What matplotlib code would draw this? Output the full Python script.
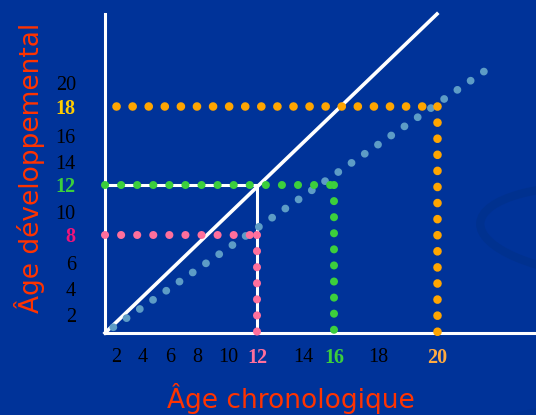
import numpy as np
import matplotlib
matplotlib.use("Agg")
import matplotlib.pyplot as plt
from matplotlib.patches import Ellipse

# tick values on both axes
ages = [2, 4, 6, 8, 10, 12, 14, 16, 18, 20]

# the slide's graduations are not evenly spaced: value -> distance from origin (px)
x_grad_vals = [-100, 0, 2, 4, 6, 8, 10, 12, 14, 16, 18, 20, 24, 100]
x_grad_pos = [-1050, 0, 11, 38, 65, 92, 123, 152, 198, 229, 273, 332, 431, 2312]
y_grad_vals = [-100, 0, 2, 4, 6, 8, 10, 12, 14, 16, 18, 20, 26, 100]
y_grad_pos = [-1250, 0, 18, 44, 70, 98, 121, 148, 171, 197, 227, 250, 319, 1170]

# normal development: developmental age == chronological age
normal_chrono = [0, 20]
normal_dev = [0, 26]
normal_ref = 12

# three children: chronological age vs developmental age
case_chrono = [12, 16, 20]
case_dev = [8, 12, 18]
case_start = [0, 0, 2]
case_colors = ["#ff6f9c", "#3ccf3c", "#ffa500"]

# delayed development trend
delay_chrono = [0, 22.1]
delay_dev = [0, 21.3]

# highlighted tick labels
y_hl = {18: "#ffcc00", 12: "#3ccf3c", 8: "#f0147a"}
x_hl = {12: "#ff6f9c", 16: "#3ccf3c", 20: "#ffaa40"}

BG = "#003399"


def scale_funcs(vals, pos):
    fwd = lambda v: np.interp(v, vals, pos)
    inv = lambda p: np.interp(p, pos, vals)
    return fwd, inv


def dots(lw, spacing_px=16, first_px=0):
    # round dots every spacing_px, first one first_px from the start
    period = spacing_px * 0.72 / lw
    offset = (spacing_px - first_px) * 0.72 / lw if first_px else 0
    return (offset, (0.01, period))


fig = plt.figure(figsize=(5.36, 4.15), dpi=100, facecolor=BG)

# faint background swooshes
fig.add_artist(Ellipse((6.1, 1.83), 2.6, 0.9, angle=-4, fill=False, lw=6,
                       ec="#00318f", transform=fig.dpi_scale_trans))
fig.add_artist(Ellipse((5.9, -1.2), 5.6, 2.6, angle=8, fill=False, lw=6,
                       ec="#003293", transform=fig.dpi_scale_trans))

ax = fig.add_axes([105 / 536, 82 / 415, 431 / 536, 319 / 415])
ax.set_facecolor("none")
ax.set_xscale("function", functions=scale_funcs(x_grad_vals, x_grad_pos))
ax.set_yscale("function", functions=scale_funcs(y_grad_vals, y_grad_pos))
ax.set_xlim(0, 24)
ax.set_ylim(0, 26)

for s in ["top", "right"]:
    ax.spines[s].set_visible(False)
for s in ["left", "bottom"]:
    ax.spines[s].set_color("white")
    ax.spines[s].set_linewidth(2.2)

# normal child: square at 12 and diagonal
ax.plot([0, normal_ref, normal_ref], [normal_ref, normal_ref, 0],
        color="white", lw=2.2, clip_on=False, zorder=3)
ax.plot(normal_chrono, normal_dev, color="white", lw=2.6, clip_on=False, zorder=3)

# delay trend
ax.plot(delay_chrono, delay_dev, color="#5d9cc6", lw=5.6, ls=dots(5.6, first_px=10),
        dash_capstyle="round", clip_on=False, zorder=4)

for cx, cy, x0, c in zip(case_chrono, case_dev, case_start, case_colors):
    lw = 6.2 if c == "#ffa500" else 5.8
    ax.plot([x0, cx], [cy, cy], color=c, lw=lw, ls=dots(lw),
            dash_capstyle="round", clip_on=False, zorder=5)
    ax.plot([cx, cx], [cy, 0], color=c, lw=lw, ls=dots(lw),
            dash_capstyle="round", clip_on=False, zorder=5)

ax.set_xticks(ages)
ax.set_xticklabels([str(a) for a in ages])
ax.set_yticks(ages)
ax.set_yticklabels([str(a) for a in ages])
ax.minorticks_off()
ax.tick_params(axis="x", length=0, pad=11)
ax.tick_params(axis="y", length=0, pad=21)

for lab, a in zip(ax.get_xticklabels(), ages):
    lab.set_fontfamily("Liberation Serif")
    lab.set_fontsize(14.5)
    lab.set_color(x_hl.get(a, "black"))
    if a in x_hl:
        lab.set_fontweight("bold")
for lab, a in zip(ax.get_yticklabels(), ages):
    lab.set_fontfamily("Liberation Serif")
    lab.set_fontsize(14.5)
    lab.set_color(y_hl.get(a, "black"))
    if a in y_hl:
        lab.set_fontweight("bold")

fig.text(291 / 536, 1 - 398 / 415, "Âge chronologique", color="#ff3300",
         fontsize=19, ha="center", va="center")
fig.text(30 / 536, 1 - 168 / 415, "Âge développemental", color="#ff3300",
         fontsize=19, ha="center", va="center", rotation=90)

fig.savefig("out.png", dpi=100, facecolor=BG)
